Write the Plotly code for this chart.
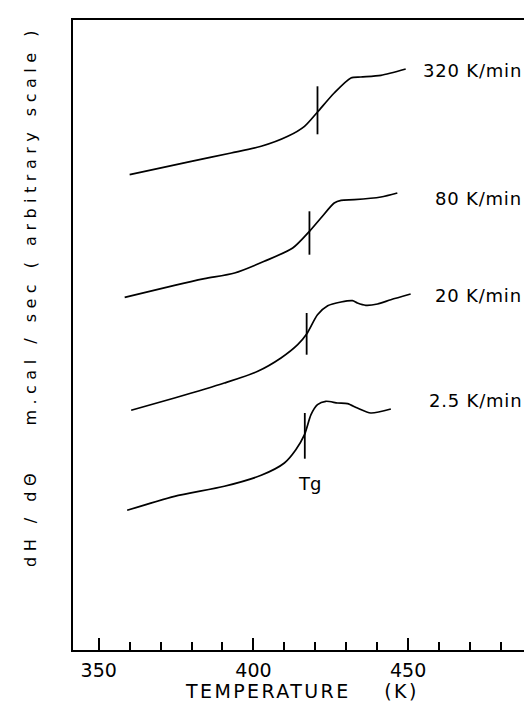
import plotly.graph_objects as go

# ---- data ----
T_320 = [360.0, 379.9, 392.8, 402.5, 411.1, 416.5, 420.7, 426.1, 431.5, 434.7, 441.2, 449.2]
Y_320 = [475.3, 488.7, 497.0, 503.7, 513.7, 523.7, 538.0, 557.0, 572.0, 573.0, 574.7, 581.0]

T_80 = [358.4, 374.5, 384.2, 393.9, 403.5, 412.7, 418.1, 421.8, 426.1, 428.3, 432.6, 441.2, 446.5]
Y_80 = [352.7, 364.7, 371.3, 377.0, 388.7, 402.0, 418.7, 432.0, 447.0, 449.7, 450.3, 453.0, 457.0]

T_20 = [360.5, 374.5, 390.6, 401.4, 408.9, 414.3, 417.2, 420.7, 424.0, 428.3, 432.0, 433.6, 436.3, 440.1, 444.4, 450.8]
Y_20 = [239.7, 252.0, 267.0, 278.7, 292.0, 305.3, 316.0, 335.3, 344.3, 348.0, 349.3, 347.0, 344.7, 346.0, 350.3, 356.0]

T_25 = [359.2, 374.5, 390.6, 402.5, 410.0, 413.7, 416.5, 418.6, 420.7, 423.4, 427.2, 430.4, 433.6, 437.9, 444.4]
Y_25 = [139.7, 153.7, 163.7, 174.7, 187.0, 200.3, 215.3, 235.3, 245.3, 248.7, 247.0, 246.3, 242.0, 237.0, 241.0]

rate_labels = ["320 K/min", "80 K/min", "20 K/min", "2.5 K/min"]
rate_label_y = [580, 452, 355, 250]

Tg_T = [420.7, 418.1, 417.2, 416.6]
Tg_lo = [515.7, 395.3, 295.3, 191.3]
Tg_hi = [563.7, 438.7, 337.0, 237.0]

x_ticks = [350, 400, 450]
x_range = [341.7, 492.6]
y_range = [0, 630]

FONT = "DejaVu Sans"

fig = go.Figure()
for T, Y in [(T_320, Y_320), (T_80, Y_80), (T_20, Y_20), (T_25, Y_25)]:
    fig.add_trace(go.Scatter(x=T, y=Y, mode="lines",
                             line=dict(color="black", width=1.7, shape="spline", smoothing=0.7),
                             showlegend=False, hoverinfo="skip"))

for t, lo, hi in zip(Tg_T, Tg_lo, Tg_hi):
    fig.add_trace(go.Scatter(x=[t, t], y=[lo, hi], mode="lines",
                             line=dict(color="black", width=1.8),
                             showlegend=False, hoverinfo="skip"))

for txt, y in zip(rate_labels, rate_label_y):
    fig.add_annotation(x=487.5, y=y, text='<span style="letter-spacing:0.8px">' + txt + '</span>',
                       showarrow=False, xanchor="right", yanchor="middle",
                       font=dict(family=FONT, size=18, color="black"))

fig.add_annotation(x=418.0, y=167, text="Tg", showarrow=False, xanchor="center",
                   yanchor="middle", font=dict(family=FONT, size=18, color="black"))

fig.add_annotation(xref="paper", yref="paper", x=0.4914, y=0, yshift=-41,
                   text='<span style="letter-spacing:2.4px">TEMPERATURE    (K)</span>',
                   showarrow=False, xanchor="center", yanchor="middle",
                   font=dict(family=FONT, size=19, color="black"))

fig.add_annotation(xref="paper", yref="paper", x=0, xshift=-42, y=0.562,
                   text='<span style="letter-spacing:5.5px">dH / d\u0398    m.cal / sec ( arbitrary scale )</span>',
                   textangle=-90, showarrow=False, xanchor="center", yanchor="middle",
                   font=dict(family=FONT, size=16, color="black"))

fig.update_xaxes(range=x_range, tickvals=x_ticks, ticks="inside", ticklen=12, tickwidth=1.5,
                 tickcolor="black", showline=True, linecolor="black", linewidth=1.6,
                 mirror=True, showgrid=False, zeroline=False,
                 minor=dict(dtick=10, tick0=350, ticks="inside", ticklen=8, tickwidth=1.5,
                            tickcolor="black", showgrid=False),
                 tickfont=dict(family=FONT, size=19, color="black"), ticklabelstandoff=2)
fig.update_yaxes(range=y_range, showticklabels=False, ticks="", showline=True,
                 linecolor="black", linewidth=1.8, mirror=False, showgrid=False, zeroline=False)

fig.update_layout(width=532, height=704, margin=dict(l=65, r=0, t=12, b=62),
                  plot_bgcolor="white", paper_bgcolor="white")

fig.write_html("out.html")
